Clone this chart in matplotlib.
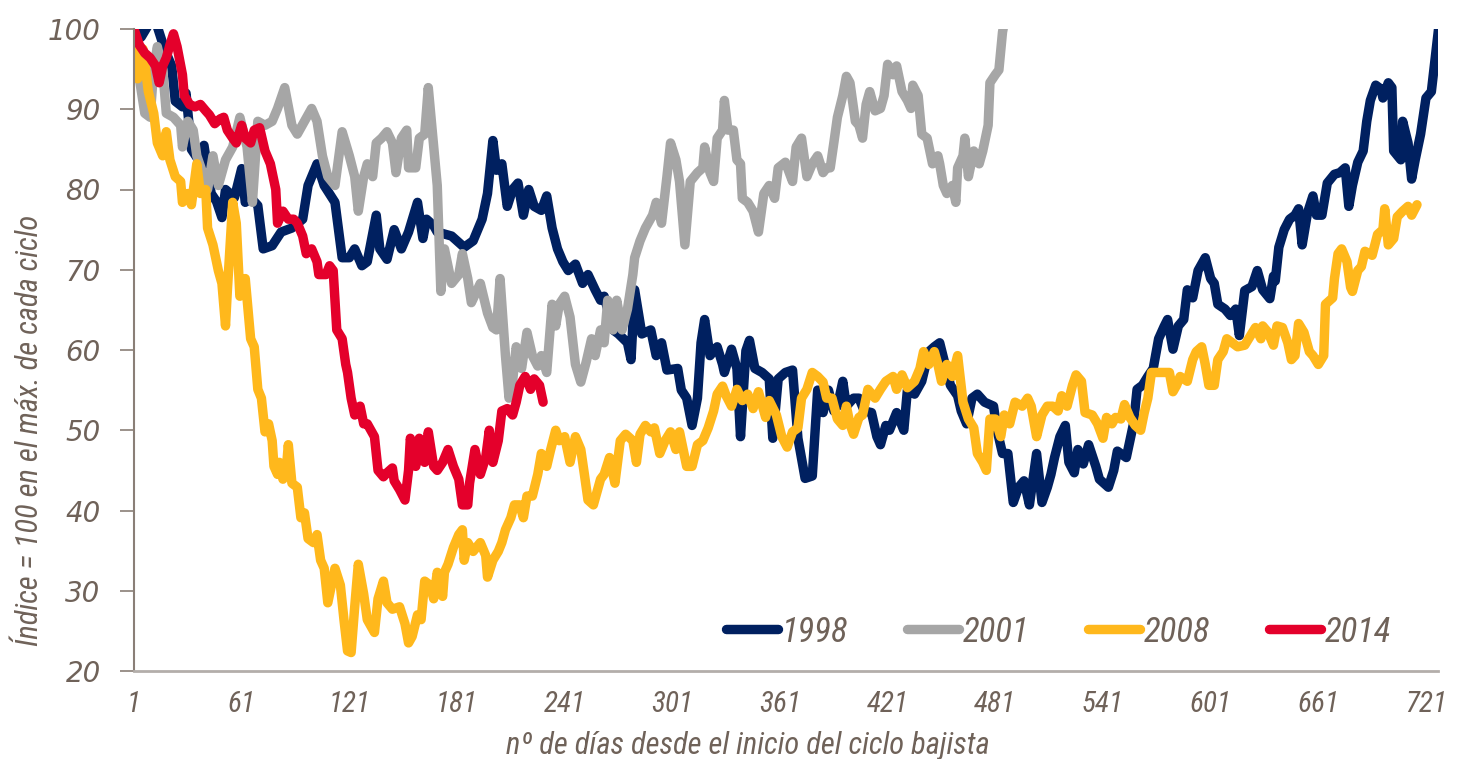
import matplotlib
matplotlib.use("Agg")
import matplotlib.pyplot as plt
from matplotlib import font_manager

# --- data (day of bear cycle, index = 100 at cycle peak) ---
d1998 = [1, 5, 9, 13, 18, 22, 24, 28, 30, 33, 36, 40, 44, 47, 50, 52, 57, 61, 63, 66,
         70, 73, 78, 83, 89, 95, 98, 103, 107, 113, 117, 121, 124, 128, 131, 136, 138, 142, 146, 150,
         154, 159, 162, 164, 168, 170, 178, 185, 190, 195, 198, 201, 203, 206, 209, 212, 215, 218, 221, 224,
         228, 231, 234, 237, 240, 243, 247, 251, 254, 258, 261, 263, 268, 271, 276, 278, 280, 284, 289, 292,
         295, 298, 304, 306, 309, 312, 315, 317, 319, 322, 326, 329, 330, 334, 337, 339, 342, 344, 347, 351,
         355, 357, 360, 364, 368, 371, 375, 379, 382, 385, 388, 391, 393, 396, 398, 402, 405, 408, 412, 415,
         417, 420, 422, 426, 430, 432, 436, 440, 444, 447, 450, 453, 456, 460, 462, 465, 468, 471, 475, 480,
         482, 485, 488, 491, 494, 497, 500, 504, 507, 510, 512, 514, 517, 520, 522, 525, 527, 530, 533, 537,
         539, 544, 547, 549, 554, 558, 560, 563, 566, 569, 572, 575, 577, 580, 583, 586, 588, 591, 594, 598,
         601, 603, 605, 609, 612, 615, 617, 620, 624, 627, 630, 634, 636, 637, 639, 642, 645, 648, 650, 652,
         655, 658, 660, 663, 666, 670, 673, 676, 678, 680, 683, 686, 688, 690, 693, 696, 697, 700, 702, 703,
         707, 708, 711, 713, 715, 718, 721, 724, 728]
v1998 = [100, 99, 100.5, 101, 97.5, 95.4, 91, 90.3, 92, 85, 84, 85.5, 79.5, 78.5, 76.5, 80, 79, 82.6, 78.4, 79,
         78, 72.6, 73, 74.7, 75.2, 76.3, 80.5, 83.2, 80.5, 78.4, 71.5, 71.5, 72.6, 70.5, 71, 76.8, 72.6, 71.3, 75, 72.6,
         74.7, 78.4, 73.9, 76.3, 75.5, 74.7, 74.2, 72.8, 73.6, 76.3, 79.5, 86.1, 82.4, 83.2, 77.9, 80, 80.8, 76.8, 80, 77.9,
         77.4, 79.2, 75.2, 72.6, 71, 69.9, 70.7, 68.3, 69.4, 67.5, 66.2, 66.7, 62.5, 62, 60.9, 58.8, 67.5, 62, 62.5, 59.3,
         60.9, 57.5, 57.7, 55, 54, 50.6, 54, 60.9, 63.8, 59.3, 60.4, 58.2, 57.2, 60.1, 57.7, 49.2, 59.9, 61.2, 57.7, 57.2,
         56.4, 49, 56.4, 57.2, 57.5, 49, 44, 44.3, 55, 52.2, 55, 52.4, 53, 56.1, 53, 54, 54, 52.4, 52.2, 49.2,
         48.2, 50.6, 50, 52.2, 50, 55, 54.5, 56.1, 59.8, 60.4, 60.9, 58.2, 55.6, 54.3, 52.4, 50.8, 54, 54.5, 53.5, 53,
         50, 47.1, 47.1, 41, 42.9, 43.7, 40.7, 47.1, 41, 42.9, 44.5, 46.6, 49.2, 50.6, 46, 44.7, 47.6, 45.8, 48.2, 45.5,
         43.9, 42.9, 45, 47.4, 46.6, 50.8, 55.1, 55.6, 56.7, 57.7, 61.4, 62.9, 63.8, 60.1, 63, 63.8, 67.5, 66.5, 69.9, 71.5,
         68.9, 68.3, 65.7, 65.1, 64.3, 65.1, 61.8, 67.4, 67.9, 69.9, 67.5, 66.4, 69.2, 68.6, 72.8, 75, 76.3, 76.8, 77.6, 73.1,
         77.1, 79.2, 76.8, 76.8, 80.8, 81.9, 82.1, 82.7, 77.9, 80.5, 83.4, 84.8, 88.5, 91.1, 93, 92.5, 91.4, 93.3, 92.7, 84.8,
         83.7, 88.5, 85.8, 81.3, 83.7, 86.9, 91.4, 92.2, 100]

d2001 = [1, 4, 7, 10, 12, 14, 17, 19, 23, 27, 28, 31, 34, 36, 40, 42, 45, 48, 52, 56,
         60, 64, 67, 70, 74, 78, 81, 85, 89, 92, 96, 100, 103, 106, 109, 113, 117, 121, 124, 126,
         129, 131, 134, 136, 139, 142, 145, 147, 150, 153, 154, 158, 160, 163, 165, 168, 170, 172, 174, 178,
         182, 184, 187, 189, 194, 198, 201, 203, 205, 208, 210, 212, 214, 217, 220, 223, 226, 228, 231, 234,
         236, 238, 241, 244, 247, 250, 253, 256, 258, 261, 263, 265, 268, 270, 273, 276, 279, 280, 283, 286,
         290, 292, 295, 298, 300, 303, 305, 308, 311, 315, 318, 319, 322, 324, 326, 329, 330, 332, 335, 337,
         339, 340, 343, 346, 349, 352, 355, 358, 360, 364, 368, 370, 373, 376, 379, 382, 385, 387, 389, 391,
         393, 396, 398, 400, 403, 405, 407, 409, 411, 414, 417, 419, 421, 424, 426, 429, 432, 434, 435, 438,
         440, 443, 446, 449, 450, 452, 454, 457, 459, 460, 463, 464, 466, 469, 472, 474, 477, 478, 481, 483,
         485, 487]
v2001 = [100, 93.8, 89.5, 89, 95, 97.8, 94.9, 89.5, 89, 88, 85.3, 88.5, 87.4, 84.2, 81.6, 80, 84.2, 80.5, 83.7, 85.3,
         89, 85.3, 78.4, 88.5, 88, 88.5, 90.1, 92.7, 88, 86.9, 88.5, 90.1, 88.5, 84.2, 81.6, 80.5, 87.2, 84.2, 81.6, 77.3,
         81.6, 83.2, 81.6, 85.8, 86.4, 87.2, 85.8, 82.1, 86.4, 87.4, 82.7, 82.7, 86.4, 86.9, 92.7, 85.3, 80.5, 67.3, 72.6, 68.3,
         69.4, 72, 68.9, 65.9, 68.3, 64.6, 62.8, 62.5, 68.9, 59.3, 54, 56.1, 60.4, 57.7, 62.2, 59.3, 58, 59.3, 57.2, 65.7,
         63, 65.7, 66.7, 64.1, 58.2, 56, 58.5, 61.4, 59.3, 62.5, 60.9, 66.2, 62.5, 66.2, 62.5, 65.1, 69.4, 71.5, 73.6, 75.2,
         76.8, 78.4, 75.8, 81.6, 85.8, 83.7, 81, 73.1, 81, 82.1, 82.7, 85.3, 82.1, 81, 86.4, 87.4, 91.1, 87.4, 87.4, 83.7,
         83.2, 78.9, 78.4, 77.3, 74.7, 79.5, 80.5, 78.9, 82.7, 83.4, 81, 85.3, 86.4, 81.6, 83.2, 84.2, 82.1, 82.7, 82.7, 85.8,
         89, 91.7, 94.1, 93.3, 88.5, 88, 86.4, 90.6, 92.2, 89.8, 90.1, 91.7, 95.6, 94.3, 95.4, 92.2, 91.1, 90.1, 93, 91.7,
         86.9, 86.4, 83.2, 84.2, 83.2, 80.5, 79.5, 80.5, 78.4, 82.7, 84.2, 86.4, 81.6, 84.8, 83.2, 84.8, 88, 93.3, 94.3, 94.9,
         99.6, 102]

d2008 = [1, 3, 6, 9, 12, 14, 17, 19, 21, 24, 27, 28, 31, 33, 36, 38, 41, 42, 45, 48,
         50, 52, 53, 56, 58, 60, 63, 66, 68, 70, 72, 74, 76, 78, 79, 81, 82, 84, 86, 87,
         89, 92, 94, 96, 98, 101, 103, 105, 107, 109, 113, 116, 118, 120, 122, 124, 126, 129, 131, 135,
         137, 140, 142, 145, 149, 152, 154, 156, 159, 161, 163, 166, 168, 170, 173, 174, 176, 179, 182, 184,
         185, 187, 190, 194, 197, 198, 201, 204, 206, 208, 211, 213, 216, 218, 220, 223, 226, 228, 231, 233,
         236, 238, 241, 244, 247, 250, 252, 254, 257, 261, 263, 266, 269, 272, 275, 279, 281, 283, 286, 289,
         291, 294, 297, 300, 303, 305, 309, 312, 315, 318, 321, 324, 326, 329, 331, 334, 337, 340, 343, 346,
         349, 353, 355, 359, 362, 365, 368, 371, 373, 376, 379, 382, 385, 387, 390, 393, 396, 398, 400, 402,
         405, 407, 410, 414, 417, 420, 424, 426, 429, 432, 436, 439, 441, 444, 447, 449, 451, 454, 457, 460,
         463, 466, 469, 471, 474, 476, 478, 481, 484, 486, 489, 492, 496, 499, 501, 504, 507, 510, 513, 516,
         518, 521, 524, 526, 529, 531, 535, 538, 541, 543, 546, 548, 551, 553, 556, 559, 562, 564, 566, 568,
         572, 576, 578, 580, 582, 584, 588, 591, 593, 596, 598, 600, 603, 605, 608, 610, 613, 616, 620, 623,
         626, 629, 630, 633, 636, 638, 641, 644, 646, 648, 650, 653, 656, 658, 661, 664, 665, 669, 670, 672,
         674, 677, 679, 680, 683, 685, 687, 691, 694, 697, 698, 700, 703, 705, 708, 711, 713, 716]
v2008 = [100, 93.8, 97.5, 92.2, 89.5, 85.8, 84.2, 87.2, 83.7, 81.6, 81, 78.4, 79.5, 78.1, 83.2, 79.5, 80, 75.2, 73.1, 69.9,
         68.3, 63, 67.3, 78.4, 75.8, 66.7, 68.9, 61.4, 60.4, 55.1, 54, 49.8, 50.8, 48.7, 45.5, 44.5, 46, 43.9, 45.5, 48.2,
         43.4, 42.9, 39.1, 39.7, 36.5, 36, 37, 33.8, 32.8, 28.5, 32.8, 30.7, 26.4, 22.5, 22.3, 28, 33.3, 29.6, 26.4, 24.8,
         29, 31.2, 28.5, 27.7, 28, 25.9, 23.5, 24.3, 27, 26.4, 31.2, 30.7, 29, 32.3, 29.3, 32.3, 33.3, 35.4, 37, 37.6,
         33.8, 36, 34.9, 36, 34.4, 31.7, 33.8, 34.9, 36, 37.6, 39.1, 40.7, 40.7, 39.1, 41.8, 41.8, 44.5, 47.1, 45.5, 47.4,
         50, 48.7, 49.2, 46, 49.2, 47.6, 44.5, 41.3, 40.7, 43.9, 44.5, 46.6, 43.4, 48.7, 49.5, 48.7, 46, 49.5, 50.6, 49.8,
         50.3, 47.1, 48.7, 49.8, 47.6, 49.8, 45.5, 45.5, 48.2, 48.7, 50.3, 52.4, 54.5, 55.5, 54.3, 53, 55.1, 53.7, 54.5, 52.7,
         54.8, 51.6, 53.7, 51.9, 49.2, 47.9, 49.8, 50.3, 54, 55.1, 57.2, 56.7, 56, 54, 54, 51.4, 50.6, 53, 50.8, 49.5,
         51.6, 51.9, 55.1, 54, 55.1, 56.1, 56.7, 55.1, 56.9, 55.3, 56.1, 57.7, 59.8, 58.2, 59.8, 58.2, 56.1, 58.2, 56.7, 59.3,
         53.5, 51.4, 50.3, 47.1, 46, 45, 51.4, 51.4, 49.2, 51.9, 50.8, 53.5, 53, 54, 53, 49.2, 51.9, 53, 53, 52.4,
         54.3, 53, 55.6, 56.9, 56.1, 52.2, 51.9, 50.8, 49, 51.6, 50.8, 51.6, 51.4, 53.2, 51.6, 50.6, 50, 52.2, 54, 57.2,
         57.2, 57.2, 57.2, 54.8, 55.6, 56.7, 56.1, 58.8, 59.8, 60.4, 58.2, 55.6, 55.6, 58.8, 59.8, 61.4, 60.9, 60.4, 60.6, 61.7,
         62.8, 61.4, 63, 62.2, 60.6, 63, 62.8, 60.9, 58.8, 59.3, 63.3, 62.2, 59.8, 59.3, 58.2, 59.3, 65.7, 66.5, 68.9, 72,
         72.6, 71, 67.8, 67.3, 69.9, 70.4, 72.3, 71.8, 74.4, 75, 77.6, 73.1, 73.9, 76.6, 77.3, 77.9, 76.8, 78.1]

d2014 = [1, 4, 7, 10, 13, 15, 17, 19, 21, 23, 25, 28, 29, 32, 35, 38, 41, 43, 46, 49,
         51, 53, 56, 58, 61, 63, 66, 68, 71, 74, 77, 80, 81, 84, 87, 90, 92, 95, 97, 100,
         103, 104, 108, 110, 112, 114, 117, 119, 120, 122, 124, 127, 129, 131, 133, 135, 137, 140, 142, 145,
         146, 149, 152, 154, 155, 158, 160, 163, 165, 168, 170, 173, 176, 179, 182, 184, 187, 188, 191, 194,
         197, 199, 201, 204, 206, 209, 212, 214, 216, 219, 222, 224, 227, 229]
v2014 = [100, 98, 97, 96.4, 95.4, 93.3, 95.4, 96.4, 98, 99.4, 97.8, 94.3, 91.7, 90.6, 90.3, 90.6, 89.8, 89.3, 88.2, 88.8,
         89, 87.4, 86.4, 85.8, 88, 86.4, 85.8, 87.4, 87.7, 84.8, 83.2, 80, 75.8, 77.3, 76.3, 76.3, 75.8, 74.2, 72, 72.6,
         71, 69.4, 69.4, 70.5, 69.9, 62.5, 61.4, 58.2, 57.2, 54, 51.9, 53, 50.8, 50.8, 50, 49.2, 45, 44.2, 44.7, 45.3,
         43.7, 42.6, 41.3, 45, 49, 45.5, 49, 46, 49.8, 45.5, 45, 46, 47.6, 45.5, 43.9, 40.7, 40.7, 43.4, 47.6, 44.5,
         46.6, 50, 46, 48.7, 52.4, 52.7, 51.9, 53.5, 55.6, 56.7, 55.1, 56.4, 55.6, 53.5]

labels = ["1998", "2001", "2008", "2014"]
colors = ["#002060", "#a6a6a6", "#ffb81c", "#e4002b"]
xticks = [1, 61, 121, 181, 241, 301, 361, 421, 481, 541, 601, 661, 721]
yticks = [20, 30, 40, 50, 60, 70, 80, 90, 100]

txt = "#6f6259"
# pick a narrow face if one is installed, otherwise Roboto
names = {f.name for f in font_manager.fontManager.ttflist}
narrow_face = next((n for n in ["Liberation Sans Narrow", "Roboto Condensed", "Open Sans Condensed",
                                "DejaVu Sans Condensed", "Roboto"] if n in names), "DejaVu Sans")
narrow = [narrow_face, "DejaVu Sans"]

fig = plt.figure(figsize=(14.57, 7.59), dpi=100)
ax = fig.add_axes([134 / 1457, 1 - 671 / 759, (1438 - 134) / 1457, (671 - 29) / 759])

series = [(d1998, v1998), (d2001, v2001), (d2008, v2008), (d2014, v2014)]
for (d, v), lab, c in zip(series, labels, colors):
    ax.plot(d, v, color=c, lw=6.8, label=lab, solid_capstyle="round", solid_joinstyle="round")

ax.set_xlim(1, 727.7)
ax.set_ylim(20, 100)
ax.set_xticks(xticks)
ax.set_yticks(yticks)
ax.set_xticklabels([str(t) for t in xticks], family=narrow, style="italic", stretch="condensed",
                   fontsize=21, color=txt)
ax.set_yticklabels([str(t) for t in yticks], family="DejaVu Sans", style="italic", fontsize=20, color=txt)
ax.tick_params(axis="x", length=0, pad=14)
ax.tick_params(axis="y", length=10, width=1.2, color="#8a7f77", pad=14)

for s in ["top", "right"]:
    ax.spines[s].set_visible(False)
ax.spines["left"].set_color("#8a7f77")
ax.spines["left"].set_linewidth(1.5)
ax.spines["bottom"].set_color("#b3aeaa")
ax.spines["bottom"].set_linewidth(2)

fig.text(30 / 1457, 1 - 430 / 759, "Índice = 100 en el máx. de cada ciclo", rotation=90,
         ha="center", va="center", family=narrow, style="italic", stretch="condensed",
         fontsize=22, color=txt)
fig.text(748 / 1457, 1 - 745 / 759, "nº de días desde el inicio del ciclo bajista",
         ha="center", va="center", family=narrow, style="italic", stretch="condensed",
         fontsize=22, color=txt)

leg = ax.legend(loc="center", bbox_to_anchor=(0.709, 0.061), ncol=4, frameon=False,
                handlelength=1.5, handletextpad=0.1, columnspacing=1.7,
                prop={"family": narrow, "style": "italic", "stretch": "condensed", "size": 25})
for t in leg.get_texts():
    t.set_color(txt)

fig.savefig("out.png", dpi=100)
